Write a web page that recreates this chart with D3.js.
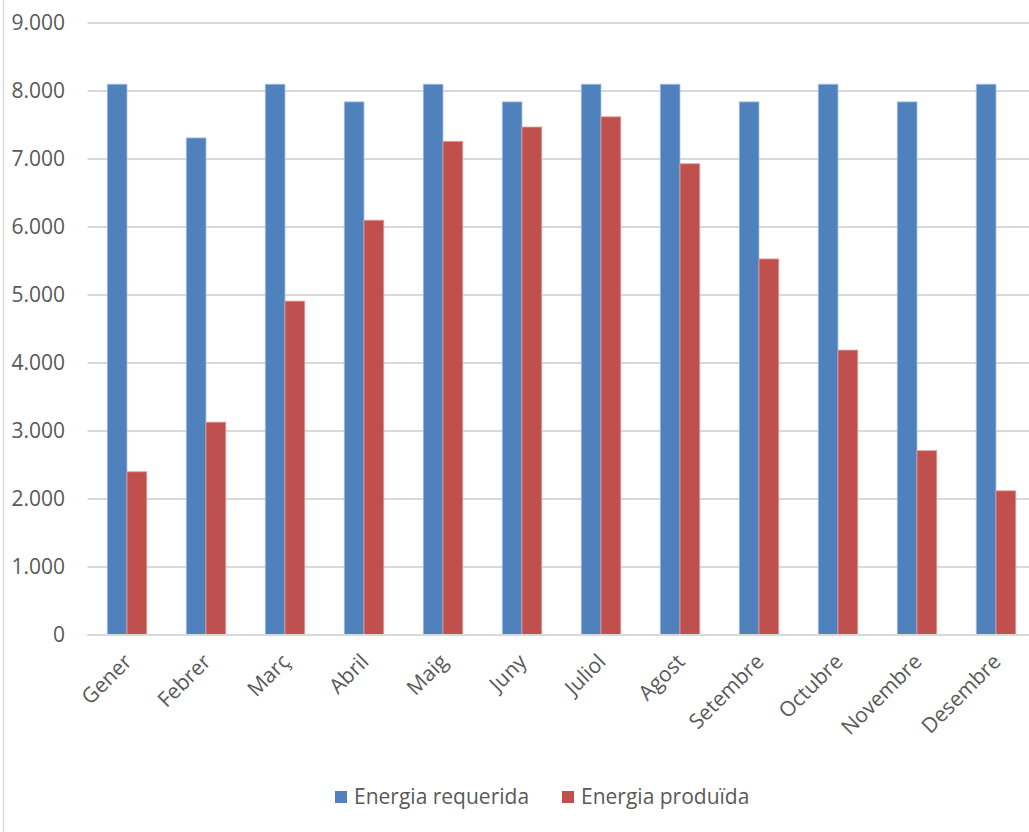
<!DOCTYPE html>
<html>
<head>
<meta charset="utf-8">
<script src="https://cdn.jsdelivr.net/npm/d3@7"></script>
<style>
  html, body { margin: 0; padding: 0; background: #fff; }
  svg { display: block; }
  text { font-family: "Open Sans", "Noto Sans", sans-serif; fill: #595959; }
</style>
</head>
<body>
<svg id="chart" width="1029" height="832"></svg>
<script>
// Monthly energy (kWh): demand vs. solar production
const months = ["Gener", "Febrer", "Març", "Abril", "Maig", "Juny",
                "Juliol", "Agost", "Setembre", "Octubre", "Novembre", "Desembre"];
const seriesNames = ["Energia requerida", "Energia produïda"];
const requerida = [8100, 7310, 8100, 7840, 8100, 7840, 8100, 8100, 7840, 8100, 7840, 8100];
const produida  = [2400, 3130, 4910, 6100, 7260, 7470, 7620, 6930, 5530, 4190, 2710, 2120];
const yTicks = [0, 1000, 2000, 3000, 4000, 5000, 6000, 7000, 8000, 9000];
const colors = ["#4F81BD", "#C0504D"];

const svg = d3.select("#chart");
const W = 1029, H = 832;
const FONT = "'Open Sans', 'Noto Sans', sans-serif";

// outer chart border (left edge visible)
svg.append("line")
  .attr("x1", 3.5).attr("x2", 3.5).attr("y1", 0).attr("y2", H)
  .attr("stroke", "#d9d9d9").attr("stroke-width", 1.5);

const plot = { left: 87.5, right: 1035.5, top: 23, bottom: 635 };

const x0 = d3.scaleBand().domain(months).range([plot.left, plot.right]).paddingInner(0).paddingOuter(0);
const x1 = d3.scaleBand().domain([0, 1]).range([x0.bandwidth() * 0.25, x0.bandwidth() * 0.75]);
const y = d3.scaleLinear().domain([0, 9000]).range([plot.bottom, plot.top]);

const fmt = v => d3.format(",")(v).replace(/,/g, ".");

// gridlines
svg.append("g")
  .selectAll("line")
  .data(yTicks)
  .join("line")
  .attr("x1", plot.left).attr("x2", W)
  .attr("y1", d => y(d)).attr("y2", d => y(d))
  .attr("stroke", "#d9d9d9").attr("stroke-width", 2);

// y axis labels
const yAxis = d3.axisLeft(y).tickValues(yTicks).tickFormat(fmt).tickSize(0).tickPadding(0);
const gy = svg.append("g").attr("transform", "translate(65,0)").call(yAxis);
gy.select(".domain").remove();
gy.selectAll("text")
  .attr("font-size", 21)
  .style("font-family", FONT)
  .attr("fill", "#595959");

// bars
const data = months.map((m, i) => ({ m, vals: [requerida[i], produida[i]] }));
const groups = svg.append("g").selectAll("g")
  .data(data)
  .join("g")
  .attr("transform", d => `translate(${x0(d.m)},0)`);

groups.selectAll("rect")
  .data(d => d.vals.map((v, k) => ({ v, k })))
  .join("rect")
  .attr("x", d => x1(d.k))
  .attr("width", x1.bandwidth())
  .attr("y", d => y(d.v))
  .attr("height", d => y(0) - y(d.v))
  .attr("fill", d => colors[d.k])
  .attr("stroke", d => d.k === 0 ? "#a9c2e3" : "#e39a98")
  .attr("stroke-width", 0.8);

// baseline
svg.append("line")
  .attr("x1", plot.left).attr("x2", W)
  .attr("y1", y(0)).attr("y2", y(0))
  .attr("stroke", "#d9d9d9").attr("stroke-width", 2);

// x axis labels (rotated)
const xAxis = d3.axisBottom(x0).tickSize(0).tickPadding(0);
const gx = svg.append("g").attr("transform", `translate(0,${plot.bottom})`).call(xAxis);
gx.select(".domain").remove();
gx.selectAll("text")
  .attr("font-size", 21)
  .style("font-family", FONT)
  .attr("fill", "#595959")
  .attr("text-anchor", "end")
  .attr("dy", 0)
  .attr("transform", "translate(6,28) rotate(-45)");

// legend
const legend = svg.append("g").attr("transform", "translate(335,797)");
const items = [{ x: 0, name: seriesNames[0], c: colors[0] }, { x: 227, name: seriesNames[1], c: colors[1] }];
items.forEach(it => {
  legend.append("rect").attr("x", it.x).attr("y", -6).attr("width", 12).attr("height", 12).attr("fill", it.c);
  legend.append("text").attr("x", it.x + 19).attr("y", 0).attr("dy", "0.35em")
    .attr("font-size", 21).style("font-family", FONT).attr("fill", "#595959").text(it.name);
});
</script>
</body>
</html>
